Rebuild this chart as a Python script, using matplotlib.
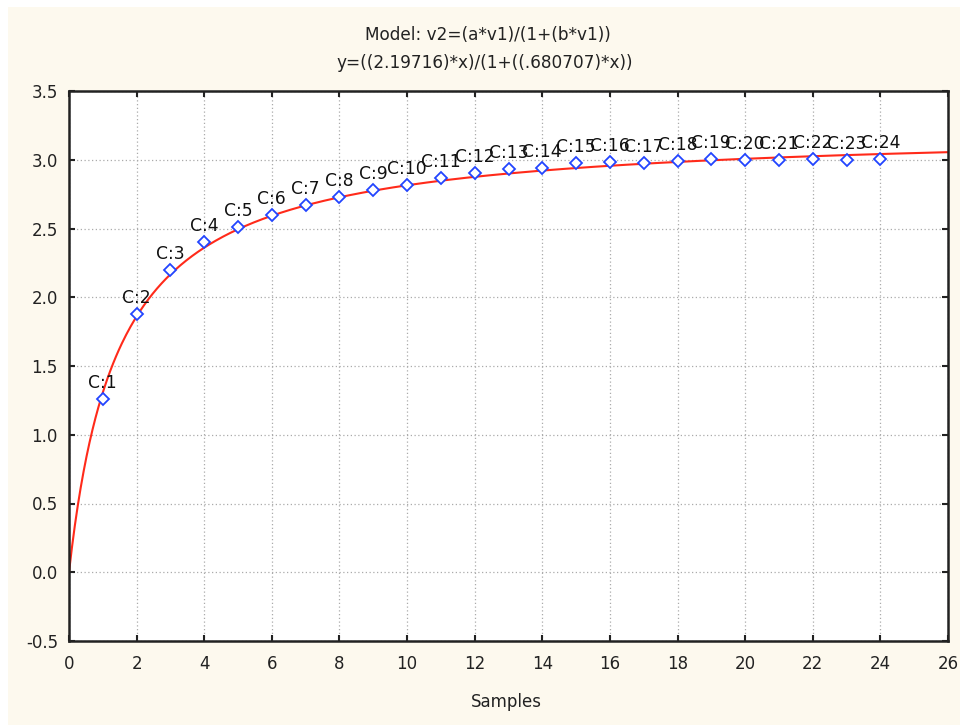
import numpy as np
import matplotlib
matplotlib.use("Agg")
import matplotlib.pyplot as plt
from matplotlib.patches import Rectangle

# Data
samples = list(range(1, 25))
values = [1.26, 1.88, 2.20, 2.40, 2.51, 2.60, 2.67, 2.73, 2.78, 2.82, 2.865, 2.905,
          2.93, 2.94, 2.975, 2.985, 2.98, 2.99, 3.005, 3.0, 3.0, 3.005, 3.0, 3.005]
labels = ["C:%d" % i for i in samples]
param_a = 2.19716
param_b = 0.680707
xticks = list(range(0, 27, 2))
yticks = [-0.5, 0.0, 0.5, 1.0, 1.5, 2.0, 2.5, 3.0, 3.5]

plt.rcParams['font.family'] = ['DejaVu Sans']

fig = plt.figure(figsize=(9.6, 7.25), dpi=100, facecolor='white')
fig.patches.append(Rectangle((8/960, 0), 1 - 8/960, 1 - 7/725, transform=fig.transFigure,
                             facecolor='#FDF9EE', edgecolor='none', zorder=-10))

ax = fig.add_axes([69/960, 84/725, (948-69)/960, (641-91)/725])
ax.set_facecolor('white')

xc = np.linspace(0, 26, 600)
yc = (param_a * xc) / (1 + param_b * xc)
ax.plot(xc, yc, color='#FF2A1A', lw=1.5, zorder=2)

ax.plot(samples, values, linestyle='none', marker='D', markersize=6,
        markerfacecolor='white', markeredgecolor='#2244FF', markeredgewidth=1.3, zorder=3)

for xs, ys, lab in zip(samples, values, labels):
    ax.annotate(lab, (xs, ys), xytext=(0, 5), textcoords='offset points',
                ha='center', va='bottom', fontsize=12.3, color='#111111', zorder=4)

ax.set_xlim(0, 26)
ax.set_ylim(-0.5, 3.5)
ax.set_xticks(xticks)
ax.set_yticks(yticks)
ax.set_yticklabels(["%.1f" % v for v in yticks])
ax.grid(True, color='#ABABAB', linestyle=(0, (1, 2)), linewidth=0.9)
ax.tick_params(direction='in', length=4, width=1.5, top=True, right=True,
               labelsize=12, colors='#222222')
ax.tick_params(axis='x', pad=10)
ax.tick_params(axis='y', pad=8)
for s in ax.spines.values():
    s.set_linewidth(1.8)
    s.set_color('#222222')

fig.text(506/960, 1 - 702/725, "Samples", ha='center', va='center',
         fontsize=12, color='#222222')

fig.text(488/960, 1 - 35/725, "Model: v2=(a*v1)/(1+(b*v1))", ha='center', va='center',
         fontsize=12.2, color='#222222')
fig.text(485/960, 1 - 63/725, "y=((2.19716)*x)/(1+((.680707)*x))", ha='center', va='center',
         fontsize=12.2, color='#222222')

fig.savefig("out.png", dpi=100, facecolor=fig.get_facecolor())
